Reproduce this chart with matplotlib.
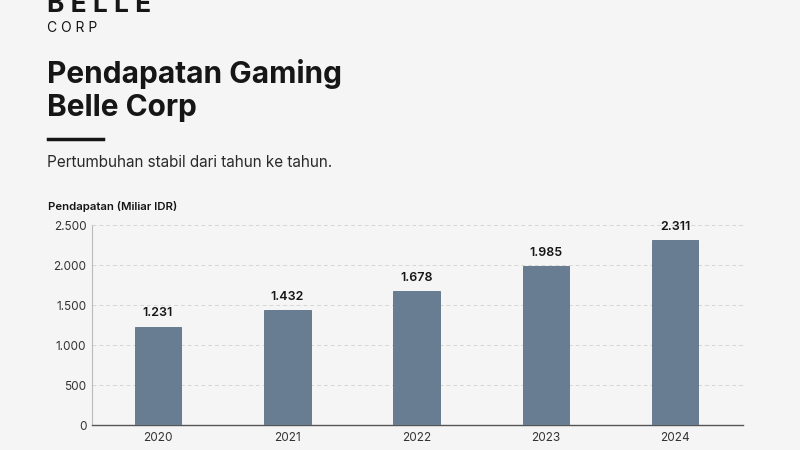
import matplotlib

matplotlib.use('Agg')
import matplotlib.pyplot as plt
from matplotlib.lines import Line2D

plt.rcParams['font.family'] = ['Inter', 'DejaVu Sans']

# data
years = ['2020', '2021', '2022', '2023', '2024']
revenue = [1231, 1432, 1678, 1985, 2311]
yticks = [0, 500, 1000, 1500, 2000, 2500]
ytick_labels = ['0', '500', '1.000', '1.500', '2.000', '2.500']

bg = '#f5f5f5'
bar_color = '#687d92'
dark = '#161616'

fig = plt.figure(figsize=(8, 4.5), dpi=100, facecolor=bg)

# logo (top of it runs off the canvas, as in the original)
fig.text(47 / 800, 1 - 12 / 450, 'B E L L E', fontsize=19, fontweight='bold',
         color=dark, va='baseline', ha='left')
fig.text(47 / 800, 1 - 32 / 450, 'C O R P', fontsize=10, color=dark,
         va='baseline', ha='left')

# title
fig.text(47 / 800, 1 - 83 / 450, 'Pendapatan Gaming', fontsize=21.5,
         fontweight='bold', color=dark, va='baseline', ha='left')
fig.text(47 / 800, 1 - 116 / 450, 'Belle Corp', fontsize=21.5,
         fontweight='bold', color=dark, va='baseline', ha='left')
fig.add_artist(Line2D([48 / 800, 103 / 800], [1 - 139 / 450, 1 - 139 / 450],
                      color=dark, linewidth=2.5, transform=fig.transFigure))
fig.text(47 / 800, 1 - 167 / 450, 'Pertumbuhan stabil dari tahun ke tahun.',
         fontsize=11, color='#2a2a2a', va='baseline', ha='left')

# chart
ax = fig.add_axes([92 / 800, 25 / 450, 651 / 800, 200 / 450], facecolor=bg)
x = range(len(years))
bars = ax.bar(x, revenue, width=0.36, color=bar_color, edgecolor='#5d7185',
              linewidth=0.6, zorder=3)
for xi, v in zip(x, revenue):
    ax.text(xi, v + 90, f'{v:,}'.replace(',', '.'), ha='center', va='bottom',
            fontsize=9, fontweight='semibold', color=dark)

ax.set_xlim(-0.51, 4.525)
ax.set_ylim(0, 2500)
ax.set_xticks(list(x))
ax.set_xticklabels(years)
ax.set_yticks(yticks)
ax.set_yticklabels(ytick_labels)
ax.tick_params(axis='both', labelsize=8.5, colors='#333333', length=0, pad=4)
ax.tick_params(axis='x', pad=5)
ax.grid(axis='y', linestyle=(0, (4, 3)), color='#d6d6d6', linewidth=0.7, zorder=0)
for s in ['top', 'right']:
    ax.spines[s].set_visible(False)
ax.spines['left'].set_color('#bbbbbb')
ax.spines['left'].set_linewidth(0.8)
ax.spines['bottom'].set_color('#555555')
ax.spines['bottom'].set_linewidth(1.0)

fig.text(48 / 800, 1 - 210 / 450, 'Pendapatan (Miliar IDR)', fontsize=8.2,
         fontweight='semibold', color=dark, va='baseline', ha='left')

fig.savefig('out.png', dpi=100, facecolor=bg)
